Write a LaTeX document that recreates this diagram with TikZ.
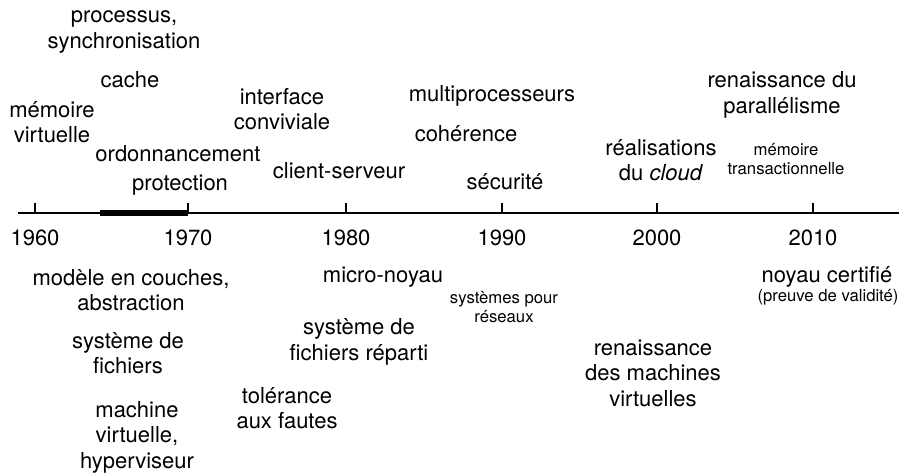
\documentclass[tikz,border=0pt]{standalone}
\usepackage{fontspec}
\setmainfont{TeX Gyre Heros}
\begin{document}
\begin{tikzpicture}[x=1pt,y=-1pt,
  lbl/.style={inner sep=0pt, align=center, font=\fontsize{22}{25.5}\selectfont},
  sml/.style={inner sep=0pt, align=center, font=\fontsize{16.7}{18.5}\selectfont},
  yr/.style={inner sep=0pt, font=\fontsize{22}{25.5}\selectfont},
  axis/.style={line width=1.8pt},
  tick/.style={line width=1.8pt},
  span/.style={line width=6.5pt}]
\useasboundingbox (0,0) rectangle (899,474);

% time axis
\coordinate (axL) at (18,213);
\coordinate (axR) at (899,213);
\draw[axis] (axL) -- (axR);

% decade ticks and years
\foreach \name/\x/\yr in {t60/35/1960, t70/188/1970, t80/346/1980, t90/502/1990, t00/657/2000, t10/813/2010}{
  \coordinate (\name) at (\x,213);
  \coordinate (\name top) at (\x,203);
  \draw[tick] (\name) -- (\name top);
  \node[yr] (\name lbl) at (\x,238) {\yr};
}

% period of the 1960s
\coordinate (spanA) at (100,213);
\draw[span] (spanA) -- (t70);

% above the axis
\node[lbl] (procsync) at (124,32) {processus,\\synchronisation};
\node[lbl] (cache) at (130,80) {cache};
\node[lbl] (memvirt) at (52,122) {mémoire\\virtuelle};
\node[lbl] (ordo) at (178,154) {ordonnancement};
\node[lbl] (protec) at (180,185) {protection};
\node[lbl] (interf) at (282,109) {interface\\conviviale};
\node[lbl] (clserv) at (339,171) {client-serveur};
\node[lbl] (multip) at (492,96) {multiprocesseurs};
\node[lbl] (coher) at (466,134) {cohérence};
\node[lbl] (secur) at (505,182) {sécurité};
\node[lbl] (cloud) at (661,160) {réalisations\\du \textit{cloud}};
\node[lbl] (parall) at (782,95) {renaissance du\\parallélisme};
\node[sml] (memtrans) at (786,159) {mémoire\\transactionnelle};

% below the axis
\node[lbl] (couches) at (131,290) {modèle en couches,\\abstraction};
\node[lbl] (sgf) at (128,353) {système de\\fichiers};
\node[lbl] (mv) at (137,437) {machine\\virtuelle,\\hyperviseur};
\node[lbl] (toler) at (287,408) {tolérance\\aux fautes};
\node[lbl] (micro) at (383,277) {micro-noyau};
\node[lbl] (sgfr) at (359,342) {système de\\fichiers réparti};
\node[sml] (reseaux) at (504,307) {systèmes pour\\réseaux};
\node[lbl] (rmv) at (653,373) {renaissance\\des machines\\virtuelles};
\node[lbl] (certif) at (827,277) {noyau certifié};
\node[sml] (preuve) at (828,297) {(preuve de validité)};
\end{tikzpicture}
\end{document}
